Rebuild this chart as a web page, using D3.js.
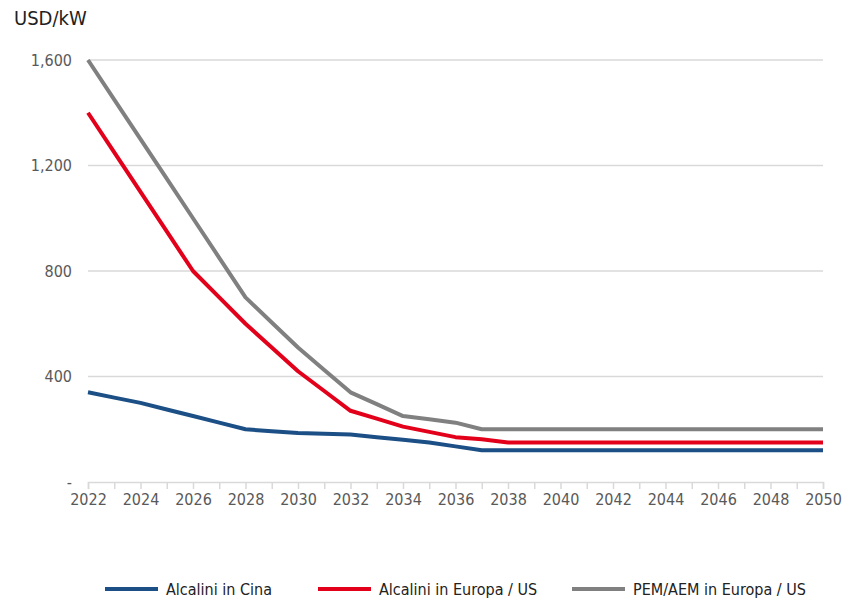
<!doctype html>
<html>
<head>
<meta charset="utf-8">
<title>USD/kW</title>
<script src="https://d3js.org/d3.v7.min.js"></script>
<style>
  body { margin: 0; background: #fff; }
  svg text { font-family: "Liberation Sans Narrow", "DejaVu Sans Condensed", "Roboto", sans-serif; }
</style>
</head>
<body>
<div id="chart"></div>
<script>
// data, one value per year 2022..2050
var years = d3.range(2022, 2051);
var alcaliniCina = [340, 320, 300, 275, 250, 225, 200, 192, 186, 183, 180, 170, 160, 150, 135, 120,
  120, 120, 120, 120, 120, 120, 120, 120, 120, 120, 120, 120, 120];
var alcaliniEuropa = [1400, 1250, 1100, 950, 800, 700, 600, 510, 420, 345, 270, 240, 210, 190, 170, 162,
  150, 150, 150, 150, 150, 150, 150, 150, 150, 150, 150, 150, 150];
var pemEuropa = [1600, 1450, 1300, 1150, 1000, 850, 700, 605, 510, 425, 340, 295, 250, 238, 225, 200,
  200, 200, 200, 200, 200, 200, 200, 200, 200, 200, 200, 200, 200];
var yTicks = [0, 400, 800, 1200, 1600];

var series = [
  {name: "Alcalini in Cina", values: alcaliniCina, color: "#1b4f85"},
  {name: "Alcalini in Europa / US", values: alcaliniEuropa, color: "#e3001b"},
  {name: "PEM/AEM in Europa / US", values: pemEuropa, color: "#808080"}
];

var width = 844, height = 598;
var svg = d3.select("#chart").append("svg")
  .attr("width", width)
  .attr("height", height);

var x = d3.scaleLinear().domain([2022, 2050]).range([88, 823]);
var y = d3.scaleLinear().domain([0, 1600]).range([482, 60]);

// unit label
svg.append("text")
  .attr("x", 14).attr("y", 25)
  .style("font-size", "20px")
  .style("fill", "#222")
  .text("USD/kW");

// gridlines
svg.append("g").selectAll("line")
  .data(yTicks.filter(function(d){ return d > 0; }))
  .enter().append("line")
    .attr("x1", x(2022)).attr("x2", x(2050))
    .attr("y1", function(d){ return y(d); })
    .attr("y2", function(d){ return y(d); })
    .style("stroke", "#d9d9d9")
    .style("stroke-width", 1.5);

// y labels
svg.append("g").selectAll("text")
  .data(yTicks)
  .enter().append("text")
    .attr("x", 72)
    .attr("y", function(d){ return y(d); })
    .attr("dy", "0.35em")
    .style("text-anchor", "end")
    .style("font-size", "16px")
    .style("fill", "#595959")
    .text(function(d){ return d === 0 ? "-" : d3.format(",")(d); });

// x axis, a tick every year, a label every two
var xAxis = d3.axisBottom(x)
  .tickValues(years)
  .tickSize(7)
  .tickFormat(function(d){ return d % 2 === 0 ? d : ""; });
var gx = svg.append("g")
  .attr("transform", "translate(0," + y(0) + ")")
  .call(xAxis);
gx.select(".domain").style("stroke", "#d9d9d9").style("stroke-width", 1.5);
gx.selectAll(".tick line").style("stroke", "#d9d9d9").style("stroke-width", 1.5);
gx.selectAll(".tick text")
  .attr("y", 12)
  .style("font-size", "16px")
  .style("font-family", "'Liberation Sans Narrow', 'DejaVu Sans Condensed', sans-serif")
  .style("fill", "#595959");

// lines
var line = d3.line()
  .x(function(d, i){ return x(years[i]); })
  .y(function(d){ return y(d); });

svg.append("g").selectAll("path")
  .data(series)
  .enter().append("path")
    .attr("d", function(d){ return line(d.values); })
    .style("fill", "none")
    .style("stroke", function(d){ return d.color; })
    .style("stroke-width", 4)
    .style("stroke-linejoin", "round");

// legend
var legendX = [105, 318, 572];
var legend = svg.append("g").selectAll("g")
  .data(series)
  .enter().append("g")
    .attr("transform", function(d, i){ return "translate(" + legendX[i] + ",589)"; });
legend.append("line")
  .attr("x1", 0).attr("x2", 53)
  .style("stroke", function(d){ return d.color; })
  .style("stroke-width", 4);
legend.append("text")
  .attr("x", 61)
  .attr("dy", "0.35em")
  .style("font-size", "16px")
  .style("fill", "#222")
  .text(function(d){ return d.name; });
</script>
</body>
</html>
